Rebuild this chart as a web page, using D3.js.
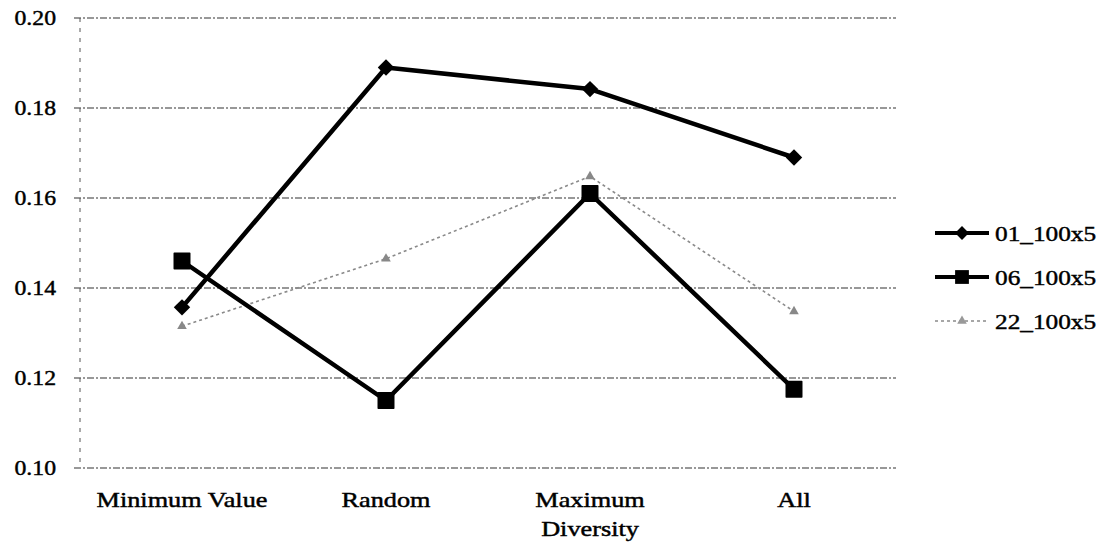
<!DOCTYPE html>
<html><head><meta charset="utf-8">
<script src="https://cdn.jsdelivr.net/npm/d3@7"></script>
<style>body{margin:0;background:#fff}svg{display:block}
text{font-family:"Liberation Serif","DejaVu Serif",serif;}</style>
</head><body>
<svg id="c" width="1109" height="550"></svg>
<script>
const categories = ["Minimum Value", "Random", "Maximum Diversity", "All"];
const categoryLines = [["Minimum Value"], ["Random"], ["Maximum", "Diversity"], ["All"]];
const seriesNames = ["01_100x5", "06_100x5", "22_100x5"];
const s01 = [0.1357, 0.1890, 0.1842, 0.1690];
const s06 = [0.1460, 0.1150, 0.1610, 0.1175];
const s22 = [0.1315, 0.1465, 0.1648, 0.1348];
const yTicks = [0.10, 0.12, 0.14, 0.16, 0.18, 0.20];

(function () {
const svg = d3.select("#c");
const pL = 80, pR = 896, pT = 18, pB = 468;
const x = d3.scaleBand().domain(categories).range([pL, pR]);
const y = d3.scaleLinear().domain([0.10, 0.20]).range([pB, pT]);
const font = '"Liberation Serif", "DejaVu Serif", serif';

// gridlines
svg.append("g").selectAll("line").data(yTicks).join("line")
  .attr("x1", pL - 6).attr("x2", pR)
  .attr("y1", d => y(d)).attr("y2", d => y(d))
  .attr("stroke", "#333").attr("stroke-width", 1.2)
  .attr("stroke-dasharray", "7,2,2,2");
// left axis
svg.append("line").attr("x1", pL).attr("x2", pL).attr("y1", pT).attr("y2", pB)
  .attr("stroke", "#555").attr("stroke-width", 1).attr("stroke-dasharray", "4,6");

function txt(g) {
  return g.style("font-family", font).attr("fill", "#000")
    .attr("stroke", "#000").attr("stroke-width", 0.45);
}

// y tick labels
txt(svg.append("g").selectAll("text").data(yTicks).join("text")
  .attr("transform", d => `translate(56,${y(d) + 7}) scale(1.13,1)`)
  .attr("text-anchor", "end").attr("font-size", 21)
  .text(d => d.toFixed(2)));

// x labels
const xl = svg.append("g");
categories.forEach((c, i) => {
  const cx = x(c) + x.bandwidth() / 2;
  categoryLines[i].forEach((ln, j) => {
    txt(xl.append("text")
      .attr("transform", `translate(${cx},${507 + j * 29}) scale(1.25,1)`)
      .attr("text-anchor", "middle").attr("font-size", 21)
      .text(ln));
  });
});

const px = c => x(c) + x.bandwidth() / 2;
const line = d3.line().x((d, i) => px(categories[i])).y(d => y(d));

const diamond = d3.symbol().type(d3.symbolSquare).size(135);
const square = d3.symbol().type(d3.symbolSquare).size(240);
const tri = d3.symbol().type(d3.symbolTriangle).size(40);

// 22 series
svg.append("path").datum(s22).attr("d", line).attr("fill", "none")
  .attr("stroke", "#8a8a8a").attr("stroke-width", 1.6).attr("stroke-dasharray", "3,3");
svg.append("g").selectAll("path").data(s22).join("path")
  .attr("d", tri).attr("transform", (d, i) => `translate(${px(categories[i])},${y(d)})`)
  .attr("fill", "#888");

// 06 series
svg.append("path").datum(s06).attr("d", line).attr("fill", "none")
  .attr("stroke", "#000").attr("stroke-width", 4.5).attr("stroke-linejoin", "round");
svg.append("g").selectAll("path").data(s06).join("path")
  .attr("d", square).attr("transform", (d, i) => `translate(${px(categories[i])},${y(d)})`)
  .attr("fill", "#000").attr("stroke", "#000").attr("stroke-width", 1.5).attr("stroke-linejoin", "round");

// 01 series
svg.append("path").datum(s01).attr("d", line).attr("fill", "none")
  .attr("stroke", "#000").attr("stroke-width", 4.5).attr("stroke-linejoin", "round");
svg.append("g").selectAll("path").data(s01).join("path")
  .attr("d", diamond).attr("transform", (d, i) => `translate(${px(categories[i])},${y(d)}) rotate(45)`)
  .attr("fill", "#000");

// legend
const legY = [233, 277, 321];
const lg = svg.append("g");
seriesNames.forEach((n, i) => {
  const ly = legY[i];
  if (i < 2) {
    lg.append("line").attr("x1", 935).attr("x2", 989).attr("y1", ly).attr("y2", ly)
      .attr("stroke", "#000").attr("stroke-width", 4);
    if (i === 0) {
      lg.append("path").attr("d", d3.symbol().type(d3.symbolSquare).size(95)())
        .attr("transform", `translate(962,${ly}) rotate(45)`).attr("fill", "#000");
    } else {
      lg.append("path").attr("d", d3.symbol().type(d3.symbolSquare).size(190)())
        .attr("transform", `translate(962,${ly})`).attr("fill", "#000");
    }
  } else {
    lg.append("line").attr("x1", 935).attr("x2", 989).attr("y1", ly).attr("y2", ly)
      .attr("stroke", "#8a8a8a").attr("stroke-width", 1.6).attr("stroke-dasharray", "3,3");
    lg.append("path").attr("d", tri()).attr("transform", `translate(962,${ly})`).attr("fill", "#999");
  }
  txt(lg.append("text").attr("transform", `translate(995,${ly + 8}) scale(1.15,1)`)
    .attr("font-size", 22).text(n));
});
})();
</script>
</body></html>
